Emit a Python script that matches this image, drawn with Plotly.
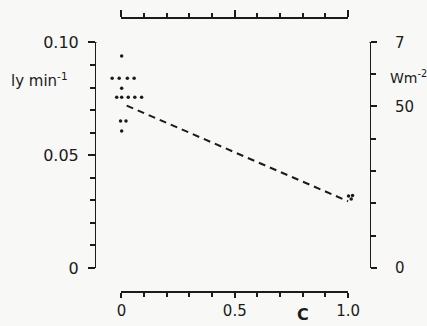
import plotly.graph_objects as go

# ---- data ----
dot_c = [0.001, -0.041, -0.010, 0.026, 0.056, 0.001,
         -0.021, 0.001, 0.030, 0.059, 0.089,
         -0.004, 0.020, 0.001,
         1.002, 1.020, 1.014]
dot_q = [0.0940, 0.0841, 0.0841, 0.0841, 0.0841, 0.0797,
         0.0757, 0.0757, 0.0757, 0.0757, 0.0757,
         0.0652, 0.0652, 0.0608,
         0.0319, 0.0321, 0.0306]

line_c = [0.023, 1.0]
line_q = [0.072, 0.0296]

x_major = [0, 0.5, 1.0]
x_text = ["0", "0.5", "1.0"]
x_minor = [0.1, 0.2, 0.3, 0.4, 0.6, 0.7, 0.8, 0.9]
ly_major = [0, 0.05, 0.10]
ly_text = ["0", "0.05", "0.10"]
ly_minor = [0.01, 0.02, 0.03, 0.04, 0.06, 0.07, 0.08, 0.09]
w_major = [0, 50]
w_text = ["0", "50", "7"]
w_minor = [10, 20, 30, 40, 60]

LY_TO_W = 697.8
YMAX = 0.10
WMAX = YMAX * LY_TO_W

INK = "#1b1b1b"
BG = "#f8f8f6"
FONT = "DejaVu Sans"

xdom = [0.0929, 0.9199]
ydom = [0.0876, 0.9106]
# invisible full-width axis carrying the data, mapped onto the same pixels
x_full = [-xdom[0] / (xdom[1] - xdom[0]), (1 - xdom[0]) / (xdom[1] - xdom[0])]

fig = go.Figure()
fig.add_trace(go.Scatter(x=line_c, y=line_q, mode="lines", xaxis="x3", yaxis="y",
                         line=dict(color=INK, width=2, dash="7px,5px"),
                         hoverinfo="skip", showlegend=False))
fig.add_trace(go.Scatter(x=dot_c, y=dot_q, mode="markers", xaxis="x3", yaxis="y",
                         marker=dict(color=INK, size=3.5),
                         cliponaxis=False, hoverinfo="skip", showlegend=False))
# dummy traces so every decorative axis is drawn
for xa, ya in [("x", "y"), ("x2", "y"), ("x4", "y"), ("x5", "y"),
               ("x", "y2"), ("x", "y3"), ("x", "y4")]:
    fig.add_trace(go.Scatter(x=[None], y=[None], xaxis=xa, yaxis=ya,
                             showlegend=False, hoverinfo="skip"))

tick = dict(tickwidth=2, tickcolor=INK)
base = dict(showgrid=False, zeroline=False, automargin=False, tickmode="array")

def xline(**kw):
    d = dict(base, domain=xdom, range=[0, 1], showline=True, linecolor=INK,
             linewidth=2, ticks="outside", tickvals=x_major, ticklen=6,
             anchor="free", **tick)
    d["minor"] = dict(ticks="outside", tickmode="array", tickvals=x_minor,
                      ticklen=4, **tick)
    d.update(kw)
    return d

def xcaps(**kw):
    d = dict(base, overlaying="x", range=[0, 1], showline=False, ticks="inside",
             tickvals=[0, 1], ticklen=4, anchor="free", showticklabels=False, **tick)
    d.update(kw)
    return d

fig.update_layout(
    width=427, height=326, autosize=False,
    paper_bgcolor=BG, plot_bgcolor=BG,
    margin=dict(l=96, r=56.5, t=18, b=34, pad=0),
    font=dict(family=FONT, color=INK),
    showlegend=False,
    xaxis=xline(position=0, ticktext=x_text, ticklen=5,
                tickfont=dict(size=15, family=FONT, color=INK),
                ticklabelstandoff=0),
    xaxis2=xline(position=1, side="top", overlaying="x", ticklen=7,
                 showticklabels=False),
    xaxis3=dict(base, domain=[0, 1], range=x_full, visible=False, anchor="y"),
    xaxis4=xcaps(position=0),
    xaxis5=xcaps(position=1, side="top"),
    yaxis=dict(base, domain=ydom, range=[0, YMAX], anchor="free", position=0,
               showline=True, linecolor=INK, linewidth=2, ticks="outside",
               tickvals=ly_major, ticktext=ly_text, ticklen=7, **tick,
               tickfont=dict(size=16, family=FONT, color=INK),
               ticklabelstandoff=6,
               minor=dict(ticks="outside", tickmode="array", tickvals=ly_minor,
                          ticklen=5, **tick)),
    yaxis3=dict(base, overlaying="y", range=[0, WMAX], anchor="free", position=0,
                showline=False, ticks="inside", tickvals=[0] + w_minor + [50, WMAX],
                ticklen=5, showticklabels=False, **tick),
    yaxis2=dict(base, domain=ydom, range=[0, WMAX], anchor="free", position=1,
                side="right", overlaying="y",
                showline=True, linecolor=INK, linewidth=2, ticks="outside",
                tickvals=w_major + [WMAX], ticktext=w_text, ticklen=6, **tick,
                tickfont=dict(size=15, family=FONT, color=INK),
                ticklabelstandoff=15,
                minor=dict(ticks="outside", tickmode="array", tickvals=w_minor,
                           ticklen=5, **tick)),
    yaxis4=dict(base, overlaying="y", range=[0, YMAX], anchor="free", position=1,
                side="right", showline=False, ticks="inside",
                tickvals=ly_major + ly_minor, ticklen=5, showticklabels=False,
                **tick),
    annotations=[
        dict(text="ly min<sup>-1</sup>", xref="paper", yref="paper",
             x=-0.095, y=1 - (80 - 18) / 274, xanchor="right", yanchor="middle",
             showarrow=False, font=dict(size=15, family=FONT, color=INK)),
        dict(text="Wm<sup>-2</sup>", xref="paper", yref="paper",
             x=1.066, y=1 - (77 - 18) / 274, xanchor="left", yanchor="middle",
             showarrow=False, font=dict(size=14, family=FONT, color=INK)),
        dict(text="<b>C</b>", xref="x", yref="paper",
             x=0.8, y=1 - (314 - 18) / 274, xanchor="center", yanchor="middle",
             showarrow=False, font=dict(size=16, family=FONT, color=INK)),
    ],
)

fig.write_html("out.html", config={"displayModeBar": False},
               post_script="document.body.style.margin='0px';")
